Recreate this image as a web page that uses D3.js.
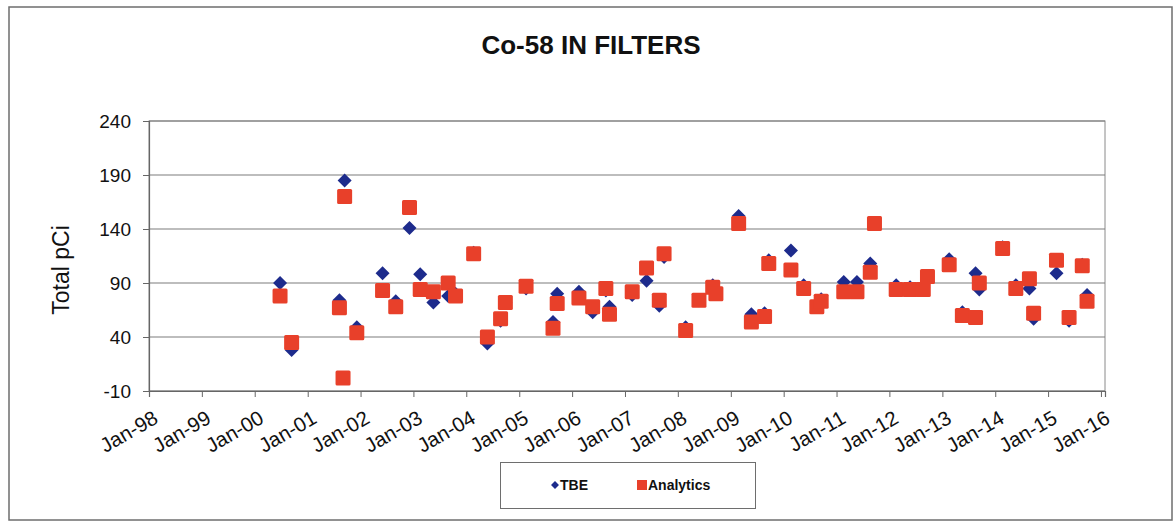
<!DOCTYPE html>
<html>
<head>
<meta charset="utf-8">
<script src="https://cdn.jsdelivr.net/npm/d3@7"></script>
<style>
  body { margin: 0; background: #fff; }
  svg { display: block; font-family: "Liberation Sans", Arial, sans-serif; }
</style>
</head>
<body>
<svg id="chart" width="1174" height="522"></svg>
<script>
// sample dates (one per collection), TBE and Analytics results in pCi
const sampleDates = [
    '2000-06-24', '2000-09-12', '2001-08-08', '2001-09-02', '2001-09-13', '2001-12-06',
    '2002-06-02', '2002-09-01', '2002-12-05', '2003-02-17', '2003-05-19', '2003-08-29',
    '2003-10-19', '2004-02-21', '2004-05-26', '2004-08-25', '2004-09-27', '2005-02-17',
    '2005-08-22', '2005-09-20', '2006-02-17', '2006-05-23', '2006-08-22', '2006-09-16',
    '2007-02-20', '2007-05-30', '2007-08-26', '2007-09-28', '2008-02-24', '2008-05-26',
    '2008-08-29', '2008-09-20', '2009-02-24', '2009-05-23', '2009-08-22', '2009-09-20',
    '2010-02-20', '2010-05-19', '2010-08-18', '2010-09-17', '2011-02-20', '2011-05-22',
    '2011-08-22', '2011-09-20', '2012-02-17', '2012-05-23', '2012-08-22', '2012-09-20',
    '2013-02-17', '2013-05-19', '2013-08-18', '2013-09-13', '2014-02-21', '2014-05-23',
    '2014-08-25', '2014-09-23', '2015-02-28', '2015-05-26', '2015-08-25', '2015-09-27'
];

const tbeValues = [
    90, 28, 74, null, 185, 49,
    99, 73, 141, 98, 72, 78,
    80, 118, 34, 55, 72, 85,
    54, 80, 82, 63, 83, 68,
    79, 92, 69, 114, 49, 74,
    88, 80, 152, 61, 62, 111,
    120, 88, 70, 75, 91, 91,
    108, 145, 88, 86, 86, 96,
    112, 63, 99, 84, 123, 88,
    85, 57, 99, 55, 107, 79
];

const analyticsValues = [
    78, 35, 67, 2, 170, 44,
    83, 68, 160, 84, 82, 90,
    78, 117, 40, 57, 72, 87,
    48, 71, 76, 68, 85, 61,
    82, 104, 74, 117, 46, 74,
    86, 80, 145, 54, 59, 108,
    102, 85, 68, 73, 82, 82,
    100, 145, 84, 84, 84, 96,
    107, 60, 58, 90, 122, 85,
    94, 62, 111, 58, 106, 73
];

const yTickValues = [-10, 40, 90, 140, 190, 240];
const seriesNames = ['TBE', 'Analytics'];

const COLOR_TBE = '#1d2b8c';
const COLOR_ANALYTICS = '#e8402a';
const GRID_COLOR = '#7d7d7d';

const plot = {left: 149, right: 1105, top: 121, bottom: 391};

const parse = d3.timeParse('%Y-%m-%d');
const dates = sampleDates.map(parse);

const svg = d3.select('#chart');

const x = d3.scaleTime()
    .domain([new Date(1998, 0, 1), new Date(2016, 0, 29)])
    .range([plot.left, plot.right]);

const y = d3.scaleLinear()
    .domain([-10, 240])
    .range([plot.bottom, plot.top]);

// chart frame
svg.append('rect')
    .attr('x', 9).attr('y', 7)
    .attr('width', 1163).attr('height', 513)
    .attr('fill', '#fff')
    .attr('stroke', '#6e6e6e')
    .attr('stroke-width', 1.5);

svg.append('text')
    .attr('x', 591).attr('y', 54)
    .attr('text-anchor', 'middle')
    .style('font-size', '26px')
    .style('font-weight', 'bold')
    .attr('fill', '#111')
    .text('Co-58 IN FILTERS');

// plot area border + gridlines
svg.append('rect')
    .attr('x', plot.left).attr('y', plot.top)
    .attr('width', plot.right - plot.left)
    .attr('height', plot.bottom - plot.top)
    .attr('fill', 'none')
    .attr('stroke', '#8a8a8a')
    .attr('stroke-width', 1);

svg.append('g')
    .selectAll('line')
    .data(yTickValues)
    .join('line')
    .attr('x1', plot.left).attr('x2', plot.right)
    .attr('y1', d => y(d)).attr('y2', d => y(d))
    .attr('stroke', GRID_COLOR)
    .attr('stroke-width', 1.2);

// y axis
const yAxis = svg.append('g')
    .attr('transform', `translate(${plot.left},0)`)
    .call(d3.axisLeft(y).tickValues(yTickValues).tickSize(6).tickPadding(12).tickFormat(d => String(d)));
yAxis.select('.domain').attr('stroke', '#666').attr('stroke-width', 1.2);
yAxis.selectAll('.tick line').attr('stroke', '#666');
yAxis.selectAll('text')
    .style('font-size', '19px')
    .attr('fill', '#111');

svg.append('text')
    .attr('transform', 'translate(69,270) rotate(-90)')
    .attr('text-anchor', 'middle')
    .style('font-size', '23px')
    .attr('fill', '#111')
    .text('Total pCi');

// x axis
const xTicks = d3.timeYear.range(new Date(1998, 0, 1), new Date(2016, 0, 2));
const xAxis = svg.append('g')
    .attr('transform', `translate(0,${plot.bottom})`)
    .call(d3.axisBottom(x).tickValues(xTicks).tickSize(6).tickFormat(d3.timeFormat('Jan-%y')));
xAxis.select('.domain').attr('stroke', '#666').attr('stroke-width', 1.2);
xAxis.selectAll('.tick line').attr('stroke', '#666');
xAxis.selectAll('text')
    .style('font-size', '20.5px')
    .attr('fill', '#111')
    .attr('text-anchor', 'end')
    .attr('dy', null)
    .attr('y', null)
    .attr('transform', 'translate(10,31) rotate(-30)');

// TBE diamonds first, Analytics squares drawn on top
const diamond = d3.symbol().type(d3.symbolDiamond2).size(125);

svg.append('g')
    .selectAll('path')
    .data(dates.map((d, i) => ({date: d, value: tbeValues[i]})).filter(d => d.value != null))
    .join('path')
    .attr('d', diamond)
    .attr('transform', d => `translate(${x(d.date)},${y(d.value)})`)
    .attr('fill', COLOR_TBE);

svg.append('g')
    .selectAll('rect')
    .data(dates.map((d, i) => ({date: d, value: analyticsValues[i]})).filter(d => d.value != null))
    .join('rect')
    .attr('x', d => x(d.date) - 7.5)
    .attr('y', d => y(d.value) - 7.5)
    .attr('width', 15).attr('height', 15)
    .attr('rx', 1.5)
    .attr('fill', COLOR_ANALYTICS);

// legend
const legend = svg.append('g');
legend.append('rect')
    .attr('x', 500.5).attr('y', 462.5)
    .attr('width', 255).attr('height', 46)
    .attr('fill', '#fff')
    .attr('stroke', '#6e6e6e');

legend.append('path')
    .attr('d', d3.symbol().type(d3.symbolDiamond2).size(40))
    .attr('transform', 'translate(555,485)')
    .attr('fill', COLOR_TBE);
legend.append('rect')
    .attr('x', 637).attr('y', 480)
    .attr('width', 10).attr('height', 10)
    .attr('fill', COLOR_ANALYTICS);

legend.selectAll('text.lbl')
    .data(seriesNames)
    .join('text')
    .attr('class', 'lbl')
    .attr('x', (d, i) => i === 0 ? 560 : 648)
    .attr('y', 490)
    .style('font-size', '14px')
    .style('font-weight', 'bold')
    .attr('fill', '#111')
    .text(d => d);
</script>
</body>
</html>
